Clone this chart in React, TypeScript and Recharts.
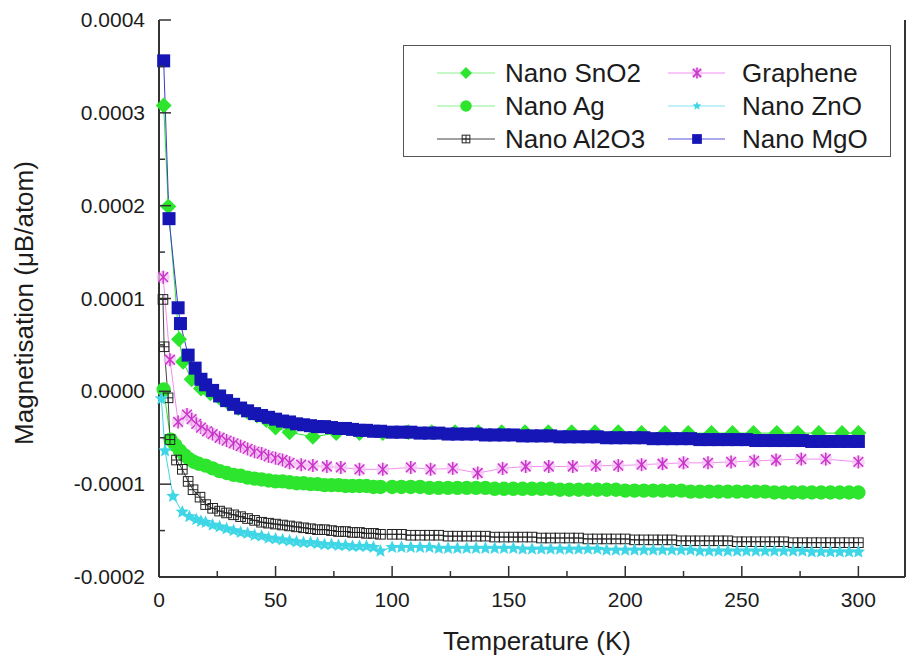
import React from 'react';
import { LineChart, Line, XAxis, YAxis, Legend } from 'recharts';

// ---------- data (magnetisation in units of 1e-4 µB/atom) ----------
const tempsDense = [
  20, 23, 26, 29, 32, 35, 38, 41, 44, 47, 50, 53, 56, 59, 62, 65, 68, 71, 74, 77, 80, 83, 86, 89, 92, 95,
  100, 104, 108, 112, 116, 120, 124, 128, 132, 136,
  140, 144, 148, 152, 156, 160, 164, 168, 172, 176, 180, 184, 188, 192, 196,
  200, 204, 208, 212, 216, 220, 224, 228, 232, 236, 240, 244, 248, 252, 256,
  260, 264, 268, 272, 276, 280, 284, 288, 292, 296, 300,
];

const mgoHead: [number, number][] = [[2, 3.56], [4.3, 1.86], [8.2, 0.9], [9.2, 0.73], [12.5, 0.39], [15.5, 0.25], [18, 0.13]];
const mgoTail = [
  0.07, 0.01, -0.05, -0.1, -0.14, -0.18, -0.21, -0.24, -0.26, -0.28, -0.3, -0.32, -0.33, -0.35, -0.36, -0.37, -0.38, -0.38, -0.39, -0.4, -0.4, -0.41, -0.42, -0.42, -0.43, -0.43,
  -0.44, -0.44, -0.44, -0.45, -0.45, -0.45, -0.46, -0.46, -0.46, -0.46,
  -0.47, -0.47, -0.47, -0.47, -0.48, -0.48, -0.48, -0.48, -0.49, -0.49, -0.49, -0.49, -0.49, -0.5, -0.5,
  -0.5, -0.5, -0.5, -0.51, -0.51, -0.51, -0.51, -0.51, -0.52, -0.52, -0.52, -0.52, -0.52, -0.52, -0.53,
  -0.53, -0.53, -0.53, -0.53, -0.53, -0.54, -0.54, -0.54, -0.54, -0.54, -0.54,
];

const agHead: [number, number][] = [[2, 0.02], [5, -0.52], [7, -0.58], [9, -0.64], [11, -0.69], [13, -0.73], [15, -0.76], [17, -0.78]];
const agTail = [
  -0.8, -0.83, -0.86, -0.88, -0.9, -0.91, -0.93, -0.94, -0.95, -0.96, -0.97, -0.97, -0.98, -0.99, -0.99, -1.0, -1.0, -1.01, -1.01, -1.01, -1.02, -1.02, -1.02, -1.02, -1.03, -1.03,
  -1.03, -1.03, -1.03, -1.03, -1.04, -1.04, -1.04, -1.04, -1.04, -1.04,
  -1.04, -1.05, -1.05, -1.05, -1.05, -1.05, -1.05, -1.05, -1.06, -1.06, -1.06, -1.06, -1.06, -1.06, -1.06,
  -1.07, -1.07, -1.07, -1.07, -1.07, -1.07, -1.07, -1.08, -1.08, -1.08, -1.08, -1.08, -1.08, -1.08, -1.08,
  -1.08, -1.09, -1.09, -1.09, -1.09, -1.09, -1.09, -1.09, -1.09, -1.09, -1.09,
];

const al2o3Head: [number, number][] = [[1.7, 0.99], [2.2, 0.48], [3.9, -0.07], [4.7, -0.52], [7.5, -0.74], [10, -0.84], [12.5, -0.97], [14.6, -1.06], [17.6, -1.14]];
const al2o3Tail = [
  -1.22, -1.26, -1.29, -1.31, -1.33, -1.35, -1.37, -1.39, -1.41, -1.42, -1.43, -1.44, -1.45, -1.46, -1.47, -1.48, -1.49, -1.49, -1.5, -1.51, -1.51, -1.52, -1.52, -1.53, -1.53, -1.54,
  -1.54, -1.54, -1.55, -1.55, -1.55, -1.55, -1.56, -1.56, -1.56, -1.56,
  -1.56, -1.57, -1.57, -1.57, -1.57, -1.57, -1.58, -1.58, -1.58, -1.58, -1.58, -1.59, -1.59, -1.59, -1.59,
  -1.59, -1.6, -1.6, -1.6, -1.6, -1.6, -1.61, -1.61, -1.61, -1.61, -1.61, -1.61, -1.62, -1.62, -1.62,
  -1.62, -1.62, -1.62, -1.63, -1.63, -1.63, -1.63, -1.63, -1.63, -1.63, -1.63,
];

const znoHead: [number, number][] = [[1, -0.08], [2.6, -0.64], [6, -1.13], [10, -1.3], [13, -1.35], [16, -1.38], [18, -1.4]];
const znoTail = [
  -1.41, -1.44, -1.46, -1.48, -1.5, -1.52, -1.53, -1.55, -1.56, -1.58, -1.59, -1.6, -1.61, -1.62, -1.63, -1.63, -1.64, -1.65, -1.65, -1.66, -1.66, -1.67, -1.67, -1.67, -1.68, -1.72,
  -1.68, -1.68, -1.68, -1.68, -1.68, -1.69, -1.69, -1.69, -1.69, -1.69,
  -1.69, -1.69, -1.69, -1.69, -1.7, -1.7, -1.7, -1.7, -1.7, -1.7, -1.7, -1.7, -1.7, -1.71, -1.71,
  -1.71, -1.71, -1.71, -1.71, -1.71, -1.71, -1.71, -1.71, -1.72, -1.72, -1.72, -1.72, -1.72, -1.72, -1.72,
  -1.72, -1.72, -1.72, -1.72, -1.72, -1.73, -1.73, -1.73, -1.73, -1.73, -1.73,
];

const sno2Points: [number, number][] = [
  [2, 3.08], [4, 1.99], [8.6, 0.56], [10.3, 0.32], [14, 0.13], [18, 0.03], [22, -0.02], [26, -0.07], [30, -0.13],
  [34, -0.18], [38, -0.22], [42, -0.26], [46, -0.31], [50, -0.39], [56, -0.44], [66, -0.49], [76, -0.45],
  [86, -0.45], [96, -0.45], [107, -0.44], [117, -0.44], [127, -0.44], [137, -0.44], [147, -0.44], [157, -0.44],
  [167, -0.44], [177, -0.44], [187, -0.44], [197, -0.44], [207, -0.45], [217, -0.45], [227, -0.45], [237, -0.45],
  [246, -0.45], [255, -0.45], [265, -0.45], [274, -0.45], [283, -0.45], [293, -0.45], [300, -0.45],
];

const graphenePoints: [number, number][] = [
  [1.8, 1.23], [4.7, 0.34], [8.2, -0.33], [12, -0.25], [14, -0.3], [16, -0.35], [18, -0.39], [20.6, -0.43],
  [23, -0.46], [26, -0.5], [29, -0.53], [32, -0.56], [35, -0.59], [38, -0.62], [41, -0.65], [44, -0.67],
  [47, -0.7], [50, -0.72], [53, -0.74], [56, -0.77], [61, -0.79], [66, -0.8], [72, -0.81], [78, -0.82],
  [86, -0.84], [96, -0.84], [108, -0.82], [116.5, -0.84], [126, -0.83], [136.7, -0.88], [147.4, -0.83],
  [157.3, -0.81], [167.2, -0.81], [177.5, -0.81], [187.4, -0.8], [197, -0.8], [207, -0.79], [216, -0.78],
  [225, -0.77], [235.5, -0.77], [245.4, -0.76], [255.3, -0.75], [264.7, -0.74], [275.5, -0.73], [286, -0.73],
  [300, -0.76],
];

const xTicks = [0, 25, 50, 75, 100, 125, 150, 175, 200, 225, 250, 275, 300];
const yTicks = [-0.0002, -0.00015, -0.0001, -0.00005, 0, 0.00005, 0.0001, 0.00015, 0.0002, 0.00025, 0.0003, 0.00035, 0.0004];
const yTickLabels = ['-0.0002', '', '-0.0001', '', '0.0000', '', '0.0001', '', '0.0002', '', '0.0003', '', '0.0004'];

const SCALE = 1e-4;
const fromPairs = (p: [number, number][]) => p.map(([T, u]) => ({ T, v: u * SCALE }));
const fromHeadTail = (head: [number, number][], tail: number[]) => [
  ...fromPairs(head),
  ...tempsDense.map((T, i) => ({ T, v: tail[i] * SCALE })).filter((d) => Number.isFinite(d.v)),
];

const sno2Data = fromPairs(sno2Points);
const grapheneData = fromPairs(graphenePoints);
const agData = fromHeadTail(agHead, agTail);
const al2o3Data = fromHeadTail(al2o3Head, al2o3Tail);
const znoData = fromHeadTail(znoHead, znoTail);
const mgoData = fromHeadTail(mgoHead, mgoTail);

// ---------- styles ----------
const FONT = "'Liberation Sans', Arial, Helvetica, sans-serif";
const TEXT = '#1c1c1c';
const AXIS = '#333';
const GREEN = '#2ee52e';
const MAGENTA = '#c935c9';
const PINK = '#f28ef2';
const CYAN = '#3fd6e6';
const BLUE = '#1616b6';
const GRAY = '#444';

type Shape = 'diamond' | 'circle' | 'boxcross' | 'asterisk' | 'star' | 'square';

const Marker = ({ shape, cx, cy, s = 1 }: { shape: Shape; cx: number; cy: number; s?: number }) => {
  switch (shape) {
    case 'diamond': {
      const r = 8 * s;
      return <polygon points={`${cx},${cy - r} ${cx + r},${cy} ${cx},${cy + r} ${cx - r},${cy}`} fill={GREEN} />;
    }
    case 'circle':
      return <circle cx={cx} cy={cy} r={7.2 * s} fill={GREEN} />;
    case 'boxcross': {
      const h = 4.8 * s;
      return (
        <g stroke="#222" strokeWidth={1} fill="none">
          <rect x={cx - h} y={cy - h} width={2 * h} height={2 * h} />
          <line x1={cx - h} y1={cy} x2={cx + h} y2={cy} />
          <line x1={cx} y1={cy - h} x2={cx} y2={cy + h} />
        </g>
      );
    }
    case 'asterisk': {
      const r = 6.5 * s;
      const d = r * 0.75;
      return (
        <g>
          <circle cx={cx} cy={cy} r={r} fill="#f6c4f6" opacity={0.75} />
          <g stroke={MAGENTA} strokeWidth={1.5}>
            <line x1={cx} y1={cy - r} x2={cx} y2={cy + r} />
            <line x1={cx - d} y1={cy - d} x2={cx + d} y2={cy + d} />
            <line x1={cx - d} y1={cy + d} x2={cx + d} y2={cy - d} />
          </g>
        </g>
      );
    }
    case 'star': {
      const ro = 7 * s;
      const ri = 3.2 * s;
      const pts: string[] = [];
      for (let k = 0; k < 10; k++) {
        const a = -Math.PI / 2 + (k * Math.PI) / 5;
        const r = k % 2 === 0 ? ro : ri;
        pts.push(`${cx + r * Math.cos(a)},${cy + r * Math.sin(a)}`);
      }
      return <polygon points={pts.join(' ')} fill={CYAN} />;
    }
    case 'square':
    default: {
      const h = 6.5 * s;
      return <rect x={cx - h} y={cy - h} width={2 * h} height={2 * h} fill={BLUE} />;
    }
  }
};

const dotFor = (shape: Shape) => (props: any) => {
  const { cx, cy, index } = props;
  if (cx == null || cy == null) return <g key={`e${index}`} />;
  return (
    <g key={`m${shape}${index}`}>
      <Marker shape={shape} cx={cx} cy={cy} />
    </g>
  );
};

// ---------- axis ticks (inward) ----------
const BottomTick = (props: any) => {
  const { x, y, payload } = props;
  const v = payload.value as number;
  const major = v % 50 === 0;
  return (
    <g>
      <line x1={x} y1={y} x2={x} y2={y - (major ? 11 : 6)} stroke={AXIS} strokeWidth={1.5} />
      {major && (
        <text x={x} y={y + 30} textAnchor="middle" fontFamily={FONT} fontSize={21} fill={TEXT}>
          {String(v)}
        </text>
      )}
    </g>
  );
};

const TopTick = (props: any) => {
  const { x, y, payload } = props;
  const major = (payload.value as number) % 50 === 0;
  return <line x1={x} y1={y} x2={x} y2={y + (major ? 11 : 6)} stroke={AXIS} strokeWidth={1.5} />;
};

const LeftTick = (props: any) => {
  const { x, y, index } = props;
  const label = yTickLabels[index] ?? '';
  const major = label !== '';
  return (
    <g>
      <line x1={x} y1={y} x2={x + (major ? 12 : 6)} y2={y} stroke={AXIS} strokeWidth={1.5} />
      {major && (
        <text x={x - 14} y={y + 7} textAnchor="end" fontFamily={FONT} fontSize={21} fill={TEXT}>
          {label}
        </text>
      )}
    </g>
  );
};

const RightTick = (props: any) => {
  const { x, y, index } = props;
  const major = (yTickLabels[index] ?? '') !== '';
  return <line x1={x} y1={y} x2={x - (major ? 12 : 6)} y2={y} stroke={AXIS} strokeWidth={1.5} />;
};

// ---------- legend ----------
const legendItems: { name: string; shape: Shape; line: string; col: number; row: number; s: number }[] = [
  { name: 'Nano SnO2', shape: 'diamond', line: '#8ef08e', col: 0, row: 0, s: 0.75 },
  { name: 'Nano Ag', shape: 'circle', line: '#8ef08e', col: 0, row: 1, s: 0.8 },
  { name: 'Nano Al2O3', shape: 'boxcross', line: GRAY, col: 0, row: 2, s: 0.8 },
  { name: 'Graphene', shape: 'asterisk', line: PINK, col: 1, row: 0, s: 0.85 },
  { name: 'Nano ZnO', shape: 'star', line: '#86e6f0', col: 1, row: 1, s: 0.65 },
  { name: 'Nano MgO', shape: 'square', line: '#5555d8', col: 1, row: 2, s: 0.75 },
];
const legendCols = [
  { x1: 34, x2: 92, mx: 63, tx: 102 },
  { x1: 265, x2: 322, mx: 294, tx: 339 },
];
const legendRows = [28, 61, 94];

const LegendBox = () => (
  <svg width={488} height={112} style={{ display: 'block' }}>
    <rect x={0.5} y={0.5} width={487} height={111} fill="#fff" stroke="#555" strokeWidth={1} />
    {legendItems.map((it) => {
      const c = legendCols[it.col];
      const y = legendRows[it.row];
      return (
        <g key={it.name}>
          <line x1={c.x1} y1={y} x2={c.x2} y2={y} stroke={it.line} strokeWidth={1.2} />
          <Marker shape={it.shape} cx={c.mx} cy={y} s={it.s} />
          <text x={c.tx} y={y + 9} fontFamily={FONT} fontSize={26} fill={TEXT}>
            {it.name}
          </text>
        </g>
      );
    })}
  </svg>
);

export default function App() {
  return (
    <div style={{ position: 'absolute', left: 0, top: 0, width: 907, height: 661, background: '#fff' }}>
      <LineChart width={907} height={661} margin={{ top: 20, right: 0, bottom: 0, left: 0 }}>
        <XAxis
          xAxisId="b"
          dataKey="T"
          type="number"
          domain={[0, 320]}
          ticks={xTicks}
          interval={0}
          height={84}
          tickSize={0}
          tickMargin={0}
          tickLine={false}
          tick={<BottomTick />}
          axisLine={{ stroke: AXIS, strokeWidth: 2 }}
        />
        <XAxis
          xAxisId="t"
          orientation="top"
          dataKey="T"
          type="number"
          domain={[0, 320]}
          ticks={xTicks}
          interval={0}
          height={0}
          tickSize={0}
          tickMargin={0}
          tickLine={false}
          tick={<TopTick />}
          axisLine={{ stroke: AXIS, strokeWidth: 2 }}
        />
        <YAxis
          yAxisId="l"
          type="number"
          domain={[-0.0002, 0.0004]}
          ticks={yTicks}
          interval={0}
          width={159}
          tickSize={0}
          tickMargin={0}
          tickLine={false}
          tick={<LeftTick />}
          axisLine={{ stroke: AXIS, strokeWidth: 2 }}
        />
        <YAxis
          yAxisId="r"
          orientation="right"
          type="number"
          domain={[-0.0002, 0.0004]}
          ticks={yTicks}
          interval={0}
          width={2}
          tickSize={0}
          tickMargin={0}
          tickLine={false}
          tick={<RightTick />}
          axisLine={{ stroke: AXIS, strokeWidth: 2 }}
        />

        <Line xAxisId="b" yAxisId="l" data={sno2Data} dataKey="v" name="Nano SnO2" stroke={GREEN} strokeWidth={1} dot={dotFor('diamond')} activeDot={false} isAnimationActive={false} />
        <Line xAxisId="b" yAxisId="l" data={agData} dataKey="v" name="Nano Ag" stroke={GREEN} strokeWidth={1} dot={dotFor('circle')} activeDot={false} isAnimationActive={false} />
        <Line xAxisId="b" yAxisId="l" data={al2o3Data} dataKey="v" name="Nano Al2O3" stroke={GRAY} strokeWidth={1} dot={dotFor('boxcross')} activeDot={false} isAnimationActive={false} />
        <Line xAxisId="b" yAxisId="l" data={grapheneData} dataKey="v" name="Graphene" stroke={PINK} strokeWidth={1} dot={dotFor('asterisk')} activeDot={false} isAnimationActive={false} />
        <Line xAxisId="b" yAxisId="l" data={znoData} dataKey="v" name="Nano ZnO" stroke={CYAN} strokeWidth={1} dot={dotFor('star')} activeDot={false} isAnimationActive={false} />
        <Line xAxisId="b" yAxisId="l" data={mgoData} dataKey="v" name="Nano MgO" stroke="#3b3bcc" strokeWidth={1} dot={dotFor('square')} activeDot={false} isAnimationActive={false} />

        <Legend
          layout="vertical"
          align="center"
          verticalAlign="middle"
          wrapperStyle={{ position: 'absolute', left: 403, top: 45, width: 488, height: 112, margin: 0, padding: 0 }}
          content={() => <LegendBox />}
        />

        <text x={537} y={650} textAnchor="middle" fontFamily={FONT} fontSize={26} fill={TEXT}>
          Temperature (K)
        </text>
        <text
          x={33}
          y={303}
          textAnchor="middle"
          transform="rotate(-90 33 303)"
          fontFamily={FONT}
          fontSize={26}
          fill={TEXT}
        >
          Magnetisation (μB/atom)
        </text>
      </LineChart>
    </div>
  );
}
